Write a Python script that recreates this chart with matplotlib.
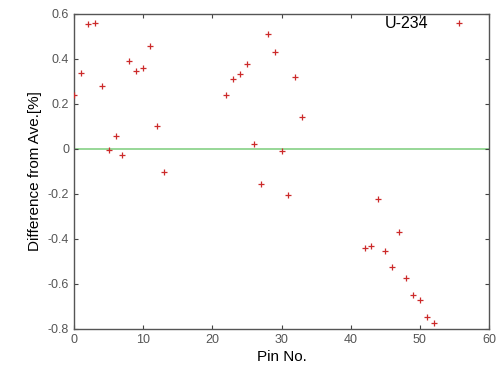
import numpy as np
import matplotlib.pyplot as plt

plt.rcParams['font.family'] = ['Liberation Sans', 'DejaVu Sans']

pins = [0, 1, 2, 3, 4, 5, 6, 7, 8, 9, 10, 11, 12, 13,
        22, 23, 24, 25, 26, 27, 28, 29, 30, 31, 32, 33,
        42, 43, 44, 45, 46, 47, 48, 49, 50, 51, 52]
diff = [0.24, 0.338, 0.556, 0.561, 0.28, -0.003, 0.056, -0.025, 0.39, 0.348, 0.359, 0.458, 0.102, -0.102,
        0.241, 0.312, 0.332, 0.379, 0.021, -0.157, 0.512, 0.43, -0.007, -0.204, 0.319, 0.141,
        -0.441, -0.431, -0.224, -0.453, -0.526, -0.369, -0.576, -0.649, -0.67, -0.747, -0.775]
xticks = [0, 10, 20, 30, 40, 50, 60]
yticks = [0.6, 0.4, 0.2, 0, -0.2, -0.4, -0.6, -0.8]
ytick_labels = ['0.6', '0.4', '0.2', '0', '-0.2', '-0.4', '-0.6', '-0.8']

fig = plt.figure(figsize=(5, 3.78), dpi=100)
ax = fig.add_axes([0.148, 0.13, 0.83, 0.833])

ax.axhline(0, color='#8fd48f', lw=1.3, zorder=1)
ax.plot(pins, diff, linestyle='none', marker='+', ms=5, mew=0.9,
        color='#cc2a2a', label='U-234', zorder=3, clip_on=True)

ax.set_xlim(0, 60)
ax.set_ylim(-0.8, 0.6)
ax.set_xticks(xticks)
ax.set_yticks(yticks)
ax.set_yticklabels(ytick_labels)
ax.tick_params(direction='in', top=True, right=True, length=3, width=0.8,
               labelsize=9, labelcolor='#555555', color='#444444')
for s in ax.spines.values():
    s.set_color('#555555')
    s.set_linewidth(1.0)

ax.set_xlabel('Pin No.', fontsize=11, labelpad=3)
ax.set_ylabel('Difference from Ave.[%]', fontsize=11, labelpad=4)

leg = ax.legend(loc='upper right', bbox_to_anchor=(0.975, 1.013), frameon=False,
                markerfirst=False, fontsize=11.5, handlelength=1.6,
                handletextpad=1.15, borderaxespad=0)

fig.savefig('out.png', dpi=100)
